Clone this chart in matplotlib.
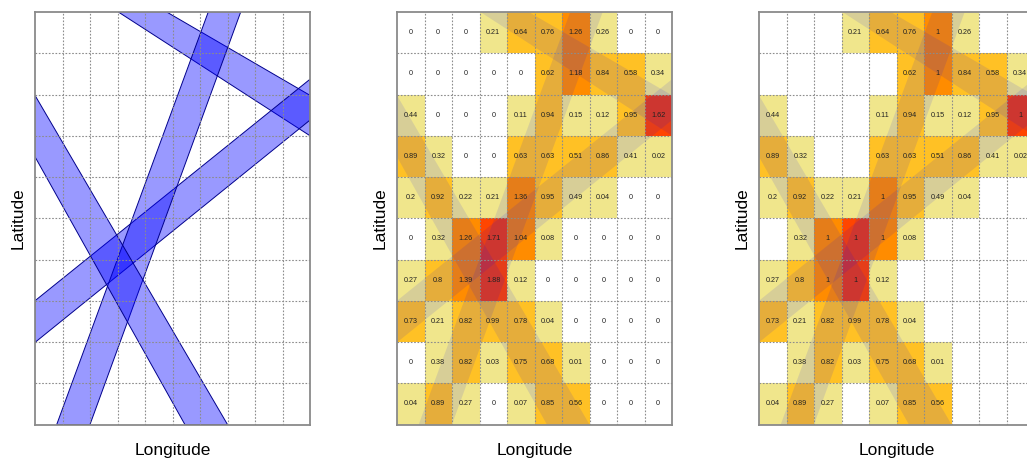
import numpy as np
import matplotlib
matplotlib.use("Agg")
import matplotlib.pyplot as plt
from matplotlib.patches import Polygon
from matplotlib.colors import ListedColormap, BoundaryNorm

plt.rcParams['font.family'] = ['Liberation Sans', 'DejaVu Sans']

# grid of 10 x 10 cells, row 0 is the top row
coverage = np.array([
    [0, 0, 0, 0.21, 0.64, 0.76, 1.26, 0.26, 0, 0],
    [0, 0, 0, 0, 0, 0.62, 1.18, 0.84, 0.58, 0.34],
    [0.44, 0, 0, 0, 0.11, 0.94, 0.15, 0.12, 0.95, 1.62],
    [0.89, 0.32, 0, 0, 0.63, 0.63, 0.51, 0.86, 0.41, 0.02],
    [0.2, 0.92, 0.22, 0.21, 1.36, 0.95, 0.49, 0.04, 0, 0],
    [0, 0.32, 1.26, 1.71, 1.04, 0.08, 0, 0, 0, 0],
    [0.27, 0.8, 1.39, 1.88, 0.12, 0, 0, 0, 0, 0],
    [0.73, 0.21, 0.82, 0.99, 0.78, 0.04, 0, 0, 0, 0],
    [0, 0.38, 0.82, 0.03, 0.75, 0.68, 0.01, 0, 0, 0],
    [0.04, 0.89, 0.27, 0, 0.07, 0.85, 0.56, 0, 0, 0],
])

# swath polygons (longitude, latitude) in grid units
swath_a = [(3.03, 10), (4.79, 10), (10, 7.98), (10, 7.0)]
swath_b = [(0, 1.99), (0, 3.0), (10, 8.37), (10, 7.38)]
swath_c = [(0.79, 0), (2.0, 0), (7.48, 10), (6.3, 10)]
swath_d = [(0, 7.98), (0, 6.49), (5.45, 0), (7.0, 0)]
swaths = [swath_a, swath_b, swath_c, swath_d]

bins = [-0.001, 0.001, 0.5, 1.0, 1.5, 2.0]
bin_colors = ['white', '#F0E68C', '#FFC125', '#FF8C00', '#FF4500']
cmap = ListedColormap(bin_colors)
norm = BoundaryNorm(bins, cmap.N)

fig = plt.figure(figsize=(10.27, 4.59), dpi=100)
W, H = 1027, 459
lefts = [35, 397, 759]
axes = [fig.add_axes([l / W, (459 - 424.5) / H, 275 / W, 412.5 / H]) for l in lefts]

n = coverage.shape[0]
edges = np.arange(n + 1)


def style(ax):
    ax.set_xlim(0, 10)
    ax.set_ylim(0, 10)
    ax.set_xticks([])
    ax.set_yticks([])
    for k in range(1, n):
        ax.axvline(k, color='#8c8c8c', lw=0.8, ls=(0, (1.5, 1.5)), zorder=5)
        ax.axhline(k, color='#8c8c8c', lw=0.8, ls=(0, (1.5, 1.5)), zorder=5)
    for s in ax.spines.values():
        s.set_color('#8a8a8a')
        s.set_linewidth(1.3)
        s.set_zorder(6)
    ax.set_xlabel('Longitude', fontsize=12.5, labelpad=13)
    ax.set_ylabel('Latitude', fontsize=12.5, labelpad=7)


# panel 1: swaths only
ax = axes[0]
for sw in swaths:
    ax.add_patch(Polygon(sw, closed=True, facecolor=(0, 0, 1, 0.4),
                         edgecolor='#00008B', lw=0.7, zorder=3))
style(ax)

# panels 2 and 3: coverage per cell
for i, ax in enumerate(axes[1:]):
    ax.pcolormesh(edges, edges, coverage[::-1], cmap=cmap, norm=norm, zorder=1)
    for sw in swaths:
        ax.add_patch(Polygon(sw, closed=True, facecolor=(0, 0, 1, 0.1),
                             edgecolor='none', zorder=2))
    for r in range(n):
        for c in range(n):
            v = coverage[r, c]
            if i == 1:
                if v == 0:
                    continue
                v = min(v, 1)
            ax.text(c + 0.5, n - r - 0.5, f'{v:g}', ha='center', va='center',
                    fontsize=5.2, color='#222222', zorder=7)
    style(ax)

fig.savefig('out.png', dpi=100)
